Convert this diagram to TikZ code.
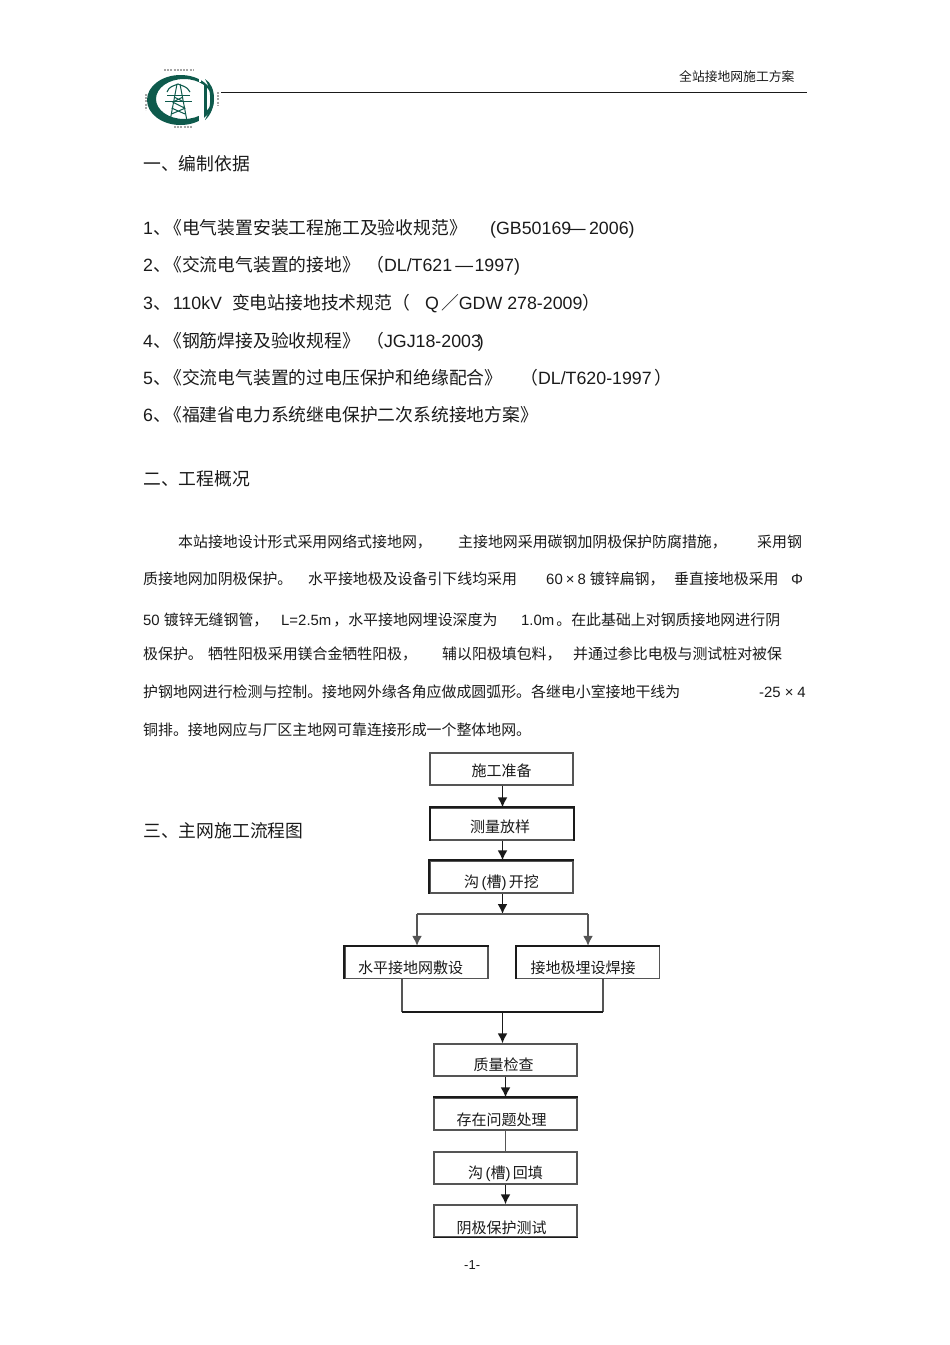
\documentclass[tikz,border=0pt]{standalone}
\usepackage{fontspec}
\setmainfont{Liberation Sans}
\newfontfamily\cjk{Noto Sans CJK SC}
\newcommand{\cj}[1]{{\cjk #1}}
\newcommand{\kk}{\hspace{-6.7pt}}
\newcommand{\bt}[3]{\makebox[0pt]{\raisebox{\dimexpr-#2pt-0.38em\relax}[0pt][0pt]{\hspace*{#1pt}\hspace*{#1pt}#3}}}
\definecolor{logog}{HTML}{0E5A4C}
\definecolor{ink}{HTML}{1A1A1A}
\definecolor{boxc}{HTML}{555555}
\usetikzlibrary{arrows.meta}
\tikzset{
 txt/.style={anchor=base west,inner sep=0pt,text=ink,font=\fontsize{17.8}{20}\selectfont},
 para/.style={anchor=base west,inner sep=0pt,text=ink,font=\fontsize{14.92}{18}\selectfont},
 flow/.style={draw=boxc,line width=1.3pt,fill=white,minimum width=143pt,minimum height=32pt,inner sep=0pt,font=\fontsize{15}{18}\selectfont,text=ink},
 arr/.style={draw=ink,line width=1.7pt,-{Latex[length=10pt,width=10pt]}},
 lnk/.style={draw=boxc,line width=1.4pt},
 lnkb/.style={draw=ink,line width=2pt},
 edge/.style={draw=ink,line width=2pt,line cap=square},
}
\begin{document}
\begin{tikzpicture}[x=1pt,y=-1pt]
\useasboundingbox (0,0) rectangle (950,1345);
% header
\node[para,font=\fontsize{12.8}{15}\selectfont] (hd) at (679,81) {\cj{全站接地网施工方案}};
\coordinate (hl) at (221,92); \coordinate (hr) at (807,92);
\draw[ink,line width=0.9pt] (hl) -- (hr);
% logo
\fill[logog,even odd rule] (180.5,100) ellipse [x radius=33.5,y radius=25] (184,99) ellipse [x radius=28,y radius=20];
\fill[white] (199,113) rectangle (204,122);
\fill[white] (199,77) rectangle (201,82);
\fill[logog] (204,85) rectangle (207,113);
\fill[logog] (205,79) .. controls (217,86) and (217,110) .. (205,120) .. controls (212,108) and (212,90) .. (205,79) -- cycle;
\draw[logog,line width=1pt] (177,84) -- (170,121) (180,84) -- (187,121) (171.5,114) -- (185.5,108) (171.5,108) -- (185,114) (172.5,102) -- (184.5,108) (174,97) -- (184,102) (183,97) -- (173,102);
\draw[logog,line width=1pt] (165,101) -- (192,101) (167,95) -- (190,95);
\draw[logog,line width=1.1pt] (167,92) .. controls (169,86) and (174,86) .. (178,84) .. controls (182,86) and (187,86) .. (190,92);
\draw[gray!70,line width=2.4pt,dash pattern=on 2pt off 1.2pt] (164,70) -- (194,70) (174,127) -- (193,127);
\draw[gray!70,line width=2.4pt,dash pattern=on 2pt off 1.2pt] (146,94) -- (146,110) (218,92) -- (218,106);
% section 1
\node[txt] (s1) at (143,170) {\cj{一、编制依据}};
\node[txt] (a1) at (143,234) {1\cj{、\kk《电气装置安装工程施工及验收规范》}};
\node[txt] (a1b) at (490,234) {(GB50169\hspace{-3.5pt}—\hspace{-1.5pt} 2006)};
\node[txt] (a2) at (143,271) {2\cj{、\kk《交流电气装置的接地》}};
\node[txt] (a2b) at (366,271) {\cj{（}DL/T621\hspace{3pt}—\hspace{1.5pt}1997)};
\node[txt] (a3) at (143,309) {3\cj{、}\hspace{2pt}110kV\hspace{10pt}\cj{变电站接地技术规范（}};
\node[txt] (a3b) at (425,309) {Q\hspace{2pt}\cj{／}GDW 278-2009\cj{）}};
\node[txt] (a4) at (143,347) {4\cj{、\kk《钢筋焊接及验收规程》}};
\node[txt] (a4b) at (366,347) {\cj{（}JGJ18-2003\hspace{-3pt})};
\node[txt] (a5) at (143,384) {5\cj{、\kk《交流电气装置的过电压保护和绝缘配合》}};
\node[txt] (a5b) at (520,384) {\cj{（}DL/T620-1997\hspace{3pt}\cj{）}};
\node[txt] (a6) at (143,421) {6\cj{、\kk《福建省电力系统继电保护二次系统接地方案》}};
% section 2
\node[txt] (s2) at (143,485) {\cj{二、工程概况}};
\node[para] (p1a) at (178,547) {\cj{本站接地设计形式采用网络式接地网，}};
\node[para] (p1b) at (458,547) {\cj{主接地网采用碳钢加阴极保护防腐措施，}};
\node[para] (p1c) at (757,547) {\cj{采用钢}};
\node[para] (p2a) at (143,584) {\cj{质接地网加阴极保护。}};
\node[para] (p2b) at (308,584) {\cj{水平接地极及设备引下线均采用}};
\node[para] (p2c) at (546,584) {60\hspace{3pt}×\hspace{3pt}8 \cj{镀锌扁钢，}};
\node[para] (p2d) at (674,584) {\cj{垂直接地极采用}};
\node[para] (p2e) at (791,584) {Φ};
\node[para] (p3a) at (143,625) {50 \cj{镀锌无缝钢管，}};
\node[para] (p3b) at (281,625) {L=2.5m\hspace{2pt}\cj{，水平接地网埋设深度为}};
\node[para] (p3c) at (521,625) {1.0m\hspace{2pt}\cj{。在此基础上对钢质接地网进行阴}};
\node[para] (p4a) at (143,659) {\cj{极保护。}};
\node[para] (p4b) at (208,659) {\cj{牺牲阳极采用镁合金牺牲阳极，}};
\node[para] (p4c) at (442,659) {\cj{辅以阳极填包料，}};
\node[para] (p4d) at (573,659) {\cj{并通过参比电极与测试桩对被保}};
\node[para] (p5a) at (143,697) {\cj{护钢地网进行检测与控制。接地网外缘各角应做成圆弧形。各继电小室接地干线为}};
\node[para] (p5b) at (759,697) {-25\hspace{4pt}×\hspace{4pt}4};
\node[para] (p6a) at (143,735) {\cj{铜排。接地网应与厂区主地网可靠连接形成一个整体地网。}};
% section 3
\node[txt] (s3) at (143,837) {\cj{三、主网施工流程图}};
% flow boxes
\node[flow] (b1) at (501.5,769) {\bt{0}{2}{\cj{施工准备}}};
\node[flow] (b2) at (502,824)   {\bt{-2}{3}{\cj{测量放样}}};
\node[flow] (b3) at (501.5,877) {\bt{0}{5}{\cj{沟}\,(\cj{槽})\,\cj{开挖}}};
\node[flow] (b4) at (416.5,962.5) {\bt{-6}{5.5}{\cj{水平接地网敷设}}};
\node[flow] (b5) at (588,962.5)   {\bt{-5}{5.5}{\cj{接地极埋设焊接}}};
\node[flow] (b6) at (505.5,1060)  {\bt{-2}{4.5}{\cj{质量检查}}};
\node[flow] (b7) at (505.5,1114)  {\bt{-4}{5.5}{\cj{存在问题处理}}};
\node[flow] (b8) at (505.5,1168)  {\bt{0}{4.5}{\cj{沟}\,(\cj{槽})\,\cj{回填}}};
\node[flow] (b9) at (505.5,1221)  {\bt{-4}{6.5}{\cj{阴极保护测试}}};
% heavier box edges
\draw[edge] (b2.south west) -- (b2.north west) -- (b2.north east) -- (b2.south east);
\draw[edge] (b3.south west) -- (b3.north west) -- (b3.north east);
\draw[edge] (b4.south west) -- (b4.north west) -- (b4.north east);
\draw[edge] (b5.south west) -- (b5.north west) -- (b5.north east);
\draw[edge] (b7.north west) -- (b7.north east);
\draw[edge,line width=1.5pt] (b9.south west) -- (b9.south east);
% connectors
\coordinate (j1) at (502.5,914);
\coordinate (j1l) at (417,914); \coordinate (j1r) at (588,914);
\coordinate (j2) at (502.5,1012);
\coordinate (j2l) at (402,1012); \coordinate (j2r) at (603,1012);
\draw[arr] (b1.south -| j1) -- (b2.north -| j1);
\draw[arr] (b2.south -| j1) -- (b3.north -| j1);
\draw[arr] (b3.south -| j1) -- (j1);
\draw[lnk] (j1l) -- (j1r);
\draw[arr,draw=boxc] (j1l) -- (b4.north -| j1l);
\draw[arr,draw=boxc] (j1r) -- (b5.north -| j1r);
\draw[lnk] (b4.south -| j2l) -- (j2l);
\draw[lnk] (b5.south -| j2r) -- (j2r);
\draw[lnkb] (j2l) -- (j2r);
\draw[arr] (j2) -- (b6.north -| j2);
\draw[arr] (b6.south) -- (b7.north);
\draw[lnk,line width=0.9pt] (b7.south) -- (b8.north);
\draw[arr] (b8.south) -- (b9.north);
\node[para,font=\fontsize{13}{15}\selectfont] (pg) at (464,1269) {-1-};
\end{tikzpicture}
\end{document}
